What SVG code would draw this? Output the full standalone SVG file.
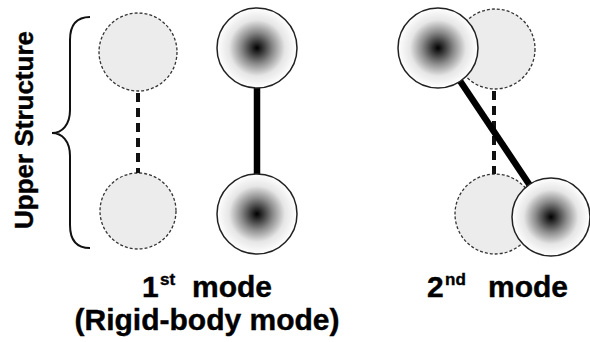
<svg xmlns="http://www.w3.org/2000/svg" width="590" height="342" viewBox="0 0 590 342">
<defs>
<radialGradient id="mass" cx="0.5" cy="0.5" r="0.5">
<stop offset="0" stop-color="#000"/>
<stop offset="0.12" stop-color="#2a2a2a"/>
<stop offset="0.4" stop-color="#8c8c8c"/>
<stop offset="0.7" stop-color="#e6e6e6"/>
<stop offset="1" stop-color="#fff"/>
</radialGradient>
<style>
.ghost{fill:#ececec;stroke:#333;stroke-width:1.3;stroke-dasharray:3 2}
.mass{fill:url(#mass);stroke:#222;stroke-width:1.5}
.dash{stroke:#111;stroke-width:4;stroke-dasharray:9 6;fill:none}
.rod{stroke:#000;stroke-width:6.5;fill:none}
.lbl{font-family:"Liberation Sans",Arial,sans-serif;font-weight:bold;fill:#000;stroke:#000;stroke-width:0.4}
</style>
</defs>
<rect width="590" height="342" fill="#fff"/>
<g id="brace">
<path d="M90,17 C76,17 70,25 70,40 L70,110 C70,125 62,133 52,133 C62,133 70,141 70,156 L70,225 C70,240 76,248 90,248" fill="none" stroke="#111" stroke-width="2"/>
<text class="lbl" font-size="26" text-anchor="middle" transform="translate(33,130) rotate(-90)">Upper Structure</text>
</g>
<g id="ghost-1-top"><circle class="ghost" cx="138" cy="52" r="39"/></g>
<g id="ghost-1-bottom"><circle class="ghost" cx="138" cy="211" r="38"/></g>
<g id="ghost-2-top"><circle class="ghost" cx="495" cy="49" r="40"/></g>
<g id="ghost-2-bottom"><circle class="ghost" cx="495" cy="214" r="40"/></g>
<g id="connectors">
<line class="dash" x1="138" y1="93" x2="138" y2="173"/>
<line class="dash" x1="494" y1="91" x2="494" y2="174"/>
<line class="rod" x1="257" y1="88" x2="257" y2="175"/>
<line class="rod" x1="438" y1="48" x2="551" y2="217"/>
</g>
<g id="mass-1-top"><circle class="mass" cx="257" cy="48" r="40"/></g>
<g id="mass-1-bottom"><circle class="mass" cx="257" cy="214" r="40"/></g>
<g id="mass-2-top"><circle class="mass" cx="438" cy="48" r="40"/></g>
<g id="mass-2-bottom"><circle class="mass" cx="551" cy="217" r="39"/></g>
<g id="label-1">
<text class="lbl" font-size="30" x="142" y="297">1</text>
<text class="lbl" font-size="17" x="160" y="285">st</text>
<text class="lbl" font-size="30" x="192" y="297">mode</text>
<text class="lbl" font-size="30" x="207" y="330" text-anchor="middle">(Rigid-body mode)</text>
</g>
<g id="label-2">
<text class="lbl" font-size="30" x="427" y="297">2</text>
<text class="lbl" font-size="17" x="445" y="285">nd</text>
<text class="lbl" font-size="30" x="488" y="297">mode</text>
</g>
</svg>
